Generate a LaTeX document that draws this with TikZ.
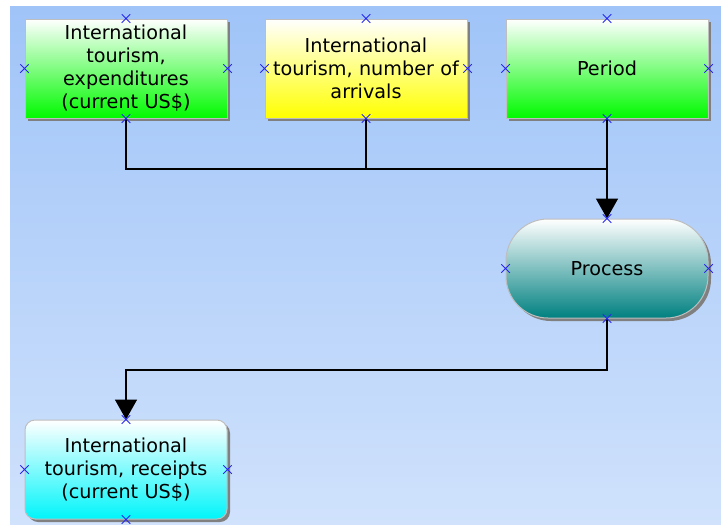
\documentclass[tikz,border=0pt]{standalone}
\usepackage{fontspec}
\setmainfont{DejaVu Sans}
\usetikzlibrary{positioning, shapes.misc, shadows, arrows.meta}
\definecolor{bgtop}{RGB}{160,196,248}
\definecolor{bgbot}{RGB}{208,226,252}
\definecolor{boxgreen}{RGB}{0,250,0}
\definecolor{boxyellow}{RGB}{255,255,0}
\definecolor{procteal}{RGB}{0,128,128}
\definecolor{outcyan}{RGB}{0,245,250}
\definecolor{edgegray}{RGB}{190,190,190}
\definecolor{markblue}{RGB}{40,40,240}
\begin{document}
\begin{tikzpicture}[
		x=1pt, y=-1pt,
		block/.style={rectangle, draw=edgegray, line width=1pt, minimum width=200pt, minimum height=99pt,
			inner sep=2pt, align=center, text width=198pt, font=\fontsize{19.2}{23}\selectfont,
			shading=axis, top color=white,
			drop shadow={shadow xshift=3pt, shadow yshift=-3pt, fill=black!50, opacity=1}},
		datain/.style={block, bottom color=boxgreen},
		datamid/.style={block, bottom color=boxyellow},
		proc/.style={block, rounded corners=42pt, bottom color=procteal},
		dataout/.style={block, rounded corners=10pt, bottom color=outcyan},
		xmark/.style={cross out, draw=markblue, line width=1pt, minimum size=7.5pt, inner sep=0pt},
		link/.style={line width=1.6pt},
		>={Triangle[width=22pt, length=20pt]}
		]
		
		\useasboundingbox (0,0) rectangle (721,525);
		\shade[top color=bgtop, bottom color=bgbot] (10,6) rectangle (721,525);
		
		\node[datain]  (in1) at (126, 68.5) {International\\tourism,\\expenditures\\(current US\$)};
		\node[datamid] (in2) at (366, 68.5) {International\\tourism, number of\\arrivals};
		\node[datain]  (per) at (607, 68.5) {Period};
		\node[proc]    (prc) at (607, 268.5) {Process};
		\node[dataout] (out) at (126, 469.5) {International\\tourism, receipts\\(current US\$)};
		
		\coordinate (join) at (607, 169);
		\coordinate (turn) at (607, 370);
		
		\draw[link] (in1.south) |- (join);
		\draw[link] (in2.south) -- (in2.south |- join);
		\draw[link, ->] (per.south) -- (prc.north);
		\draw[link, ->] (prc.south) -- (turn) -| (out.north);
		
		\foreach \n in {in1,in2,per,prc,out}
		\foreach \a in {north,south,east,west}
		\node[xmark] (\n-\a) at (\n.\a) {};
		\end{tikzpicture}
\end{document}
